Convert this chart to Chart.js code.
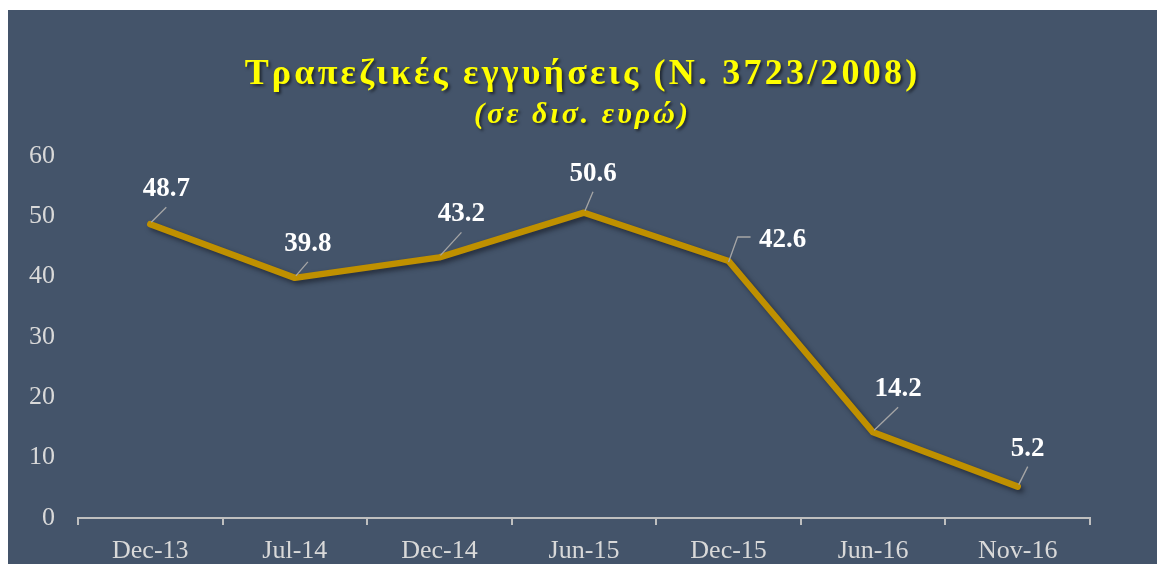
<!DOCTYPE html>
<html>
<head>
<meta charset="utf-8">
<script src="https://cdn.jsdelivr.net/npm/chart.js@4"></script>
<style>
  html, body { margin: 0; padding: 0; background: #fff; }
  #panel {
    position: absolute; left: 8px; top: 10px; width: 1149px; height: 554px;
    background: #44546A; overflow: hidden;
  }
  #chartBox { position: absolute; left: 0; top: 0; width: 1149px; height: 554px; }
  .ttl {
    position: absolute; left: 0; width: 1149px; text-align: center;
    font-family: "Liberation Serif", "Times New Roman", serif; font-weight: bold;
    color: #FFFF00; text-shadow: 2px 2px 3px rgba(0,0,0,0.55); white-space: nowrap;
  }
  #title { top: 41px; font-size: 36px; letter-spacing: 3.2px; }
  #subtitle { top: 86px; font-size: 30px; font-style: italic; letter-spacing: 3px; }
</style>
</head>
<body>
<div id="panel">
  <div id="chartBox"><canvas id="guaranteeChart"></canvas></div>
  <div id="title" class="ttl">Τραπεζικές εγγυήσεις (Ν. 3723/2008)</div>
  <div id="subtitle" class="ttl">(σε δισ. ευρώ)</div>
</div>
<script>
// ===== data =====
const periods = ['Dec-13', 'Jul-14', 'Dec-14', 'Jun-15', 'Dec-15', 'Jun-16', 'Nov-16'];
const guarantees = [48.7, 39.8, 43.2, 50.6, 42.6, 14.2, 5.2];
const yTicks = [0, 10, 20, 30, 40, 50, 60];

// label offsets from the point (style only) + kind of leader line
const labelOffsets = [[16, -36], [13, -35], [22, -44], [9, -40], [54, -22], [25, -44], [10, -39]];
const leaderKinds = ['straight', 'straight', 'straight', 'straight', 'elbow', 'straight', 'straight'];

const serif = '"Liberation Serif", "Times New Roman", serif';

// shadow under the line
const lineShadow = {
    id: 'lineShadow',
    beforeDatasetDraw(chart) {
        const c = chart.ctx;
        c.save();
        c.shadowColor = 'rgba(20,25,35,0.65)';
        c.shadowBlur = 5;
        c.shadowOffsetX = 3;
        c.shadowOffsetY = 3;
    },
    afterDatasetDraw(chart) {
        chart.ctx.restore();
    }
};

// value labels with leader lines
const valueLabels = {
    id: 'valueLabels',
    afterDatasetsDraw(chart) {
        const c = chart.ctx;
        const pts = chart.getDatasetMeta(0).data;
        c.save();
        c.font = 'bold 27px ' + serif;
        c.textAlign = 'center';
        c.textBaseline = 'middle';
        pts.forEach((p, i) => {
            const [dx, dy] = labelOffsets[i];
            const lx = p.x + dx, ly = p.y + dy;
            c.strokeStyle = '#A6A6A6';
            c.lineWidth = 1.3;
            c.beginPath();
            if (leaderKinds[i] === 'straight') {
                c.moveTo(p.x + 1, p.y - 2);
                c.lineTo(lx, ly + 19);
            } else {
                c.moveTo(p.x, p.y + 1);
                c.lineTo(p.x + 9, ly - 2);
                c.lineTo(p.x + 22, ly - 2);
            }
            c.stroke();
            c.fillStyle = '#FFFFFF';
            c.fillText(guarantees[i].toFixed(1), lx, ly + 1);
        });
        c.restore();
    }
};

const ctx = document.getElementById('guaranteeChart').getContext('2d');
new Chart(ctx, {
    type: 'line',
    data: {
        labels: periods,
        datasets: [{
            data: guarantees,
            borderColor: '#BF9000',
            borderWidth: 6.5,
            pointRadius: 0,
            tension: 0,
            borderJoinStyle: 'round',
            borderCapStyle: 'round'
        }]
    },
    options: {
        responsive: true,
        maintainAspectRatio: false,
        animation: false,
        layout: { padding: { top: 146, right: 67, left: 0, bottom: 0 } },
        plugins: {
            legend: { display: false },
            tooltip: { enabled: false }
        },
        scales: {
            x: {
                offset: true,
                grid: {
                    offset: true,
                    drawOnChartArea: false,
                    drawTicks: true,
                    tickLength: 7,
                    color: '#BFBFBF',
                    lineWidth: 2
                },
                border: { display: true, color: '#BFBFBF', width: 2 },
                ticks: {
                    color: '#D9D9D9',
                    font: { family: serif, size: 26 },
                    padding: 11,
                    maxRotation: 0
                },
                afterFit(scale) { scale.height = 46; }
            },
            y: {
                min: 0,
                max: 60,
                afterBuildTicks(scale) { scale.ticks = yTicks.map(v => ({ value: v })); },
                grid: { display: false, drawTicks: false },
                border: { display: false },
                ticks: {
                    color: '#D9D9D9',
                    font: { family: serif, size: 26 },
                    padding: 23
                },
                afterFit(scale) { scale.width = 70; }
            }
        }
    },
    plugins: [lineShadow, valueLabels]
});
</script>
</body>
</html>
